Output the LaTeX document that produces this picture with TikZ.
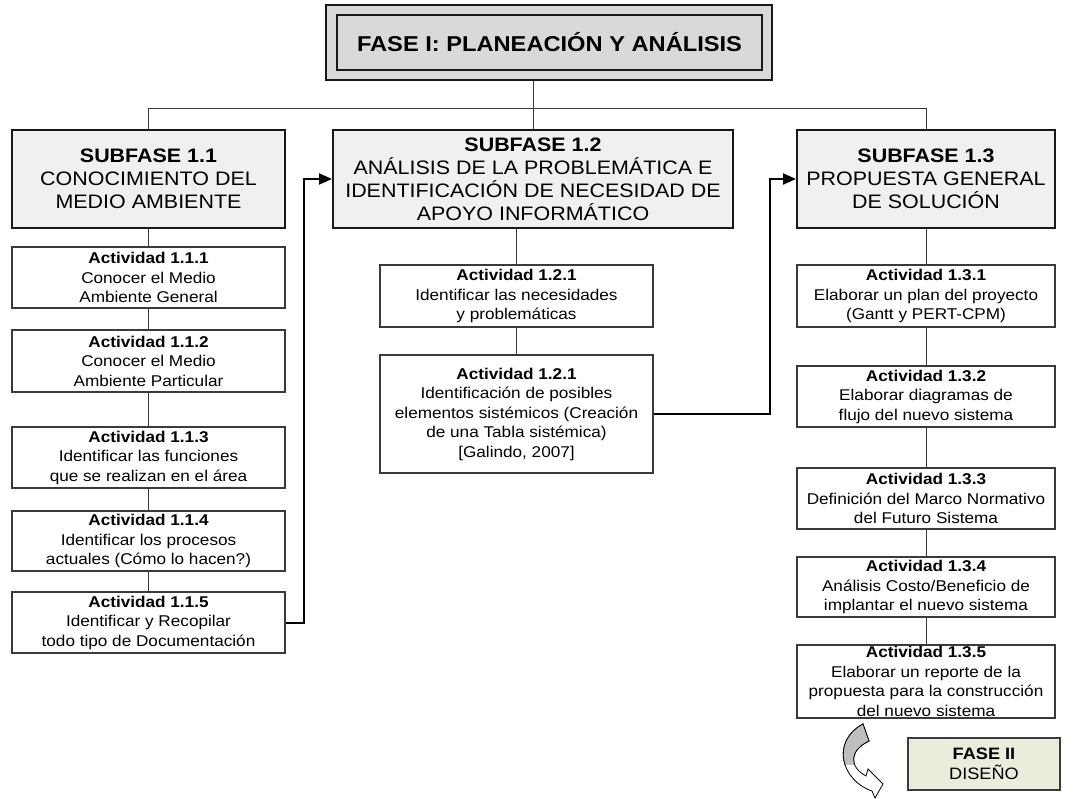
\documentclass[tikz,border=0pt]{standalone}
\usepackage{fontspec}
\setmainfont{Liberation Sans}[FakeStretch=1.1]
\usetikzlibrary{arrows.meta}
\definecolor{fasegray}{HTML}{D9D9D9}
\definecolor{subgray}{HTML}{F0F0F0}
\definecolor{fasetwo}{HTML}{EAEDDB}
\definecolor{linegray}{HTML}{3A3A3A}
\tikzset{
  actbox/.style={draw=linegray,line width=1.1pt,fill=white,align=center,inner sep=0pt,
    minimum width=273pt,minimum height=61pt,font=\fontsize{15.6}{19.5}\selectfont},
  subbox/.style={draw=black!90,line width=2pt,fill=subgray,align=center,inner sep=0pt,
    minimum height=98pt,font=\fontsize{19.5}{23}\selectfont},
  link/.style={draw=linegray,line width=1pt},
  flow/.style={line width=2pt,-{Triangle[length=13pt,width=11pt]}}
}
\begin{document}
\begin{tikzpicture}[x=1pt,y=-1pt]
  \useasboundingbox (0,0) rectangle (1082,799);
  % fase I
  \node[draw=black!90,line width=2pt,fill=fasegray,minimum width=446pt,minimum height=75pt] (faseframe) at (549,42.5) {};
  \node[draw=black!90,line width=1.3pt,minimum width=425pt,minimum height=55pt,font=\bfseries\fontsize{21.5}{23}\selectfont] (fase1) at (549.5,42.5) {FASE I: PLANEACIÓN Y ANÁLISIS};
  \coordinate (bus) at (533,109);
  % subfases
  \node[subbox,minimum width=273pt] (sub11) at (148.5,179) {\textbf{SUBFASE 1.1}\\CONOCIMIENTO DEL\\MEDIO AMBIENTE};
  \node[subbox,minimum width=400pt] (sub12) at (533,179) {\textbf{SUBFASE 1.2}\\ANÁLISIS DE LA PROBLEMÁTICA E\\IDENTIFICACIÓN DE NECESIDAD DE\\APOYO INFORMÁTICO};
  \node[subbox,minimum width=258pt] (sub13) at (926,179) {\textbf{SUBFASE 1.3}\\PROPUESTA GENERAL\\DE SOLUCIÓN};
  \draw[link] (faseframe.south -| bus) -- (bus);
  \draw[link] (sub11.north) -- (sub11.north |- bus) -- (sub13.north |- bus) -- (sub13.north);
  \draw[link] (bus) -- (sub12.north);
  % actividades 1.1
  \node[actbox] (a111) at (148.5,277.5) {\textbf{Actividad 1.1.1}\\Conocer el Medio\\Ambiente General};
  \node[actbox,minimum height=62pt] (a112) at (148.5,361) {\textbf{Actividad 1.1.2}\\Conocer el Medio\\Ambiente Particular};
  \node[actbox] (a113) at (148.5,457.5) {\textbf{Actividad 1.1.3}\\Identificar las funciones\\que se realizan en el área};
  \node[actbox,minimum height=60pt] (a114) at (148.5,541) {\textbf{Actividad 1.1.4}\\Identificar los procesos\\actuales (Cómo lo hacen?)};
  \node[actbox] (a115) at (148.5,622.5) {\textbf{Actividad 1.1.5}\\Identificar y Recopilar\\todo tipo de Documentación};
  \draw[link] (sub11) -- (a111);
  \draw[link] (a111) -- (a112);
  \draw[link] (a112) -- (a113);
  \draw[link] (a113) -- (a114);
  \draw[link] (a114) -- (a115);
  % actividades 1.2
  \node[actbox,minimum height=62pt] (a121) at (516.5,296) {\textbf{Actividad 1.2.1}\\Identificar las necesidades\\y problemáticas};
  \node[actbox,minimum height=118pt] (a122) at (516.5,414) {\textbf{Actividad 1.2.1}\\Identificación de posibles\\elementos sistémicos (Creación\\de una Tabla sistémica)\\{[Galindo, 2007]}};
  \draw[link] (a121.north |- sub12.south) -- (a121.north);
  \draw[link] (a121) -- (a122);
  % actividades 1.3
  \node[actbox,minimum width=258pt,minimum height=62pt] (a131) at (926,296) {\textbf{Actividad 1.3.1}\\Elaborar un plan del proyecto\\(Gantt y PERT-CPM)};
  \node[actbox,minimum width=258pt] (a132) at (926,396.5) {\textbf{Actividad 1.3.2}\\Elaborar diagramas de\\flujo del nuevo sistema};
  \node[actbox,minimum width=258pt] (a133) at (926,498.5) {\textbf{Actividad 1.3.3}\\Definición del Marco Normativo\\del Futuro Sistema};
  \node[actbox,minimum width=258pt,minimum height=60pt] (a134) at (926,587) {\textbf{Actividad 1.3.4}\\Análisis Costo/Beneficio de\\implantar el nuevo sistema};
  \node[actbox,minimum width=258pt,minimum height=73pt] (a135) at (926,681.5) {\textbf{Actividad 1.3.5}\\Elaborar un reporte de la\\propuesta para la construcción\\del nuevo sistema};
  \draw[link] (sub13) -- (a131);
  \draw[link] (a131) -- (a132);
  \draw[link] (a132) -- (a133);
  \draw[link] (a133) -- (a134);
  \draw[link] (a134) -- (a135);
  % flechas entre subfases
  \draw[flow] (a115.east) -- ++(18,0) |- (sub12.west);
  \draw[flow] (a122.east) -- ++(116,0) |- (sub13.west);
  % fase II
  \node[draw=linegray,line width=1.1pt,fill=fasetwo,minimum width=152pt,minimum height=52pt,align=center,inner sep=0pt,font=\fontsize{16.5}{19.5}\selectfont] (fase2) at (984,764) {\textbf{FASE II}\\DISEÑO};
  \path[draw=black,line width=0.8pt,fill=white] (863,724) -- (869,741) .. controls (850,750) and (848,766) .. (866,776) -- (868,769) -- (883,784) -- (875,798) -- (872,791) .. controls (842,781) and (830,742) .. cycle;
  \begin{scope}
    \clip (830,720) rectangle (875,764);
    \path[draw=black,line width=0.8pt,fill=black!25] (863,724) -- (869,741) .. controls (850,750) and (848,766) .. (866,776) -- (868,769) -- (883,784) -- (875,798) -- (872,791) .. controls (842,781) and (830,742) .. cycle;
  \end{scope}
\end{tikzpicture}
\end{document}
